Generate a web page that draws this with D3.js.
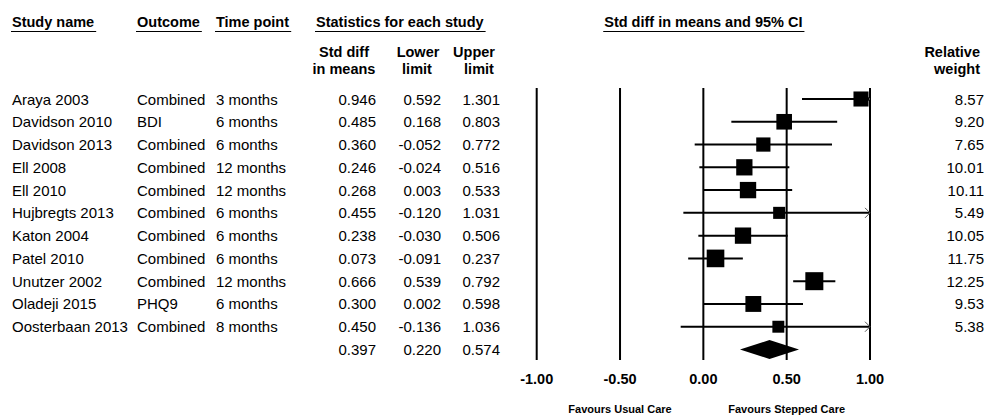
<!DOCTYPE html>
<html lang="en">
	<head>
		<meta charset="utf-8">
		<title>Forest plot: stepped care vs usual care</title>
		<script type="text/javascript" src="https://cdn.jsdelivr.net/npm/d3@7"></script>
		<style type="text/css">
			body { margin: 0; background: #fff; }
			text { font-family: "Liberation Sans", Arial, sans-serif; fill: #000; }
		</style>
	</head>
	<body>
		<script type="text/javascript">

			// Data
			var studies   = ["Araya 2003", "Davidson 2010", "Davidson 2013", "Ell 2008", "Ell 2010", "Hujbregts 2013",
			                 "Katon 2004", "Patel 2010", "Unutzer 2002", "Oladeji 2015", "Oosterbaan 2013"];
			var outcomes  = ["Combined", "BDI", "Combined", "Combined", "Combined", "Combined",
			                 "Combined", "Combined", "Combined", "PHQ9", "Combined"];
			var timepoints = ["3 months", "6 months", "6 months", "12 months", "12 months", "6 months",
			                  "6 months", "6 months", "12 months", "6 months", "8 months"];
			var smd   = [0.946, 0.485, 0.360, 0.246, 0.268, 0.455, 0.238, 0.073, 0.666, 0.300, 0.450];
			var lower = [0.592, 0.168, -0.052, -0.024, 0.003, -0.120, -0.030, -0.091, 0.539, 0.002, -0.136];
			var upper = [1.301, 0.803, 0.772, 0.516, 0.533, 1.031, 0.506, 0.237, 0.792, 0.598, 1.036];
			var weights = [8.57, 9.20, 7.65, 10.01, 10.11, 5.49, 10.05, 11.75, 12.25, 9.53, 5.38];
			var pooled = { est: 0.397, lo: 0.220, hi: 0.574 };
			var ticks = [-1.00, -0.50, 0.00, 0.50, 1.00];

			var w = 989, h = 416;

			var svg = d3.select("body").append("svg")
						.attr("width", w)
						.attr("height", h);

			var xScale = d3.scaleLinear().domain([-1, 1]).range([536.7, 870]);
			// row centers, pooled row is the 12th
			var yScale = d3.scaleLinear().domain([0, 11]).range([99, 349.5]);
			var sizeScale = d3.scaleSqrt().domain([0, d3.max(weights)]).range([0, 18]);
			// plain hyphen for negatives, like the original
			var locale = d3.formatLocale({ decimal: ".", thousands: ",", grouping: [3], currency: ["", ""], minus: "-" });
			var fmt = locale.format(".3f");
			var fmtTick = locale.format(".2f");

			// headers
			function header(txt, x, y, anchor, underline) {
				var t = svg.append("text")
					.attr("x", x).attr("y", y)
					.attr("text-anchor", anchor)
					.attr("font-size", "14.5px")
					.attr("font-weight", "bold")
					.text(txt);
				if (underline) {
					var b = t.node().getBBox();
					svg.append("line")
						.attr("x1", b.x - 1).attr("x2", b.x + b.width + 2)
						.attr("y1", 31.5).attr("y2", 31.5)
						.attr("stroke", "#000").attr("stroke-width", 1);
				}
			}
			header("Study name", 12, 27, "start", true);
			header("Outcome", 137, 27, "start", true);
			header("Time point", 216, 27, "start", true);
			header("Statistics for each study", 316, 27, "start", true);
			header("Std diff in means and 95% CI", xScale(0), 27, "middle", true);
			header("Std diff", 344, 57, "middle");
			header("in means", 344, 74, "middle");
			header("Lower", 418, 57, "middle");
			header("limit", 417, 74, "middle");
			header("Upper", 474, 57, "middle");
			header("limit", 479, 74, "middle");
			header("Relative", 980, 57, "end");
			header("weight", 980, 74, "end");

			// table text
			var idx = d3.range(studies.length);
			function col(values, x, anchor) {
				svg.append("g").selectAll("text")
					.data(values)
					.enter()
					.append("text")
					.attr("x", x)
					.attr("y", function(d, i) { return yScale(i) + 5.5; })
					.attr("text-anchor", anchor)
					.attr("font-size", "15px")
					.text(function(d) { return d; });
			}
			col(studies, 12, "start");
			col(outcomes, 137, "start");
			col(timepoints, 216, "start");
			col(smd.map(fmt).concat([fmt(pooled.est)]), 376, "end");
			col(lower.map(fmt).concat([fmt(pooled.lo)]), 441, "end");
			col(upper.map(fmt).concat([fmt(pooled.hi)]), 500, "end");
			col(weights.map(function(d) { return d.toFixed(2); }), 984, "end");

			// vertical reference lines
			svg.append("g").selectAll("line")
				.data(ticks)
				.enter()
				.append("line")
				.attr("x1", function(d) { return xScale(d); })
				.attr("x2", function(d) { return xScale(d); })
				.attr("y1", 88).attr("y2", 360)
				.attr("stroke", "#000").attr("stroke-width", 2);

			// tick labels
			svg.append("g").selectAll("text")
				.data(ticks)
				.enter()
				.append("text")
				.attr("x", function(d) { return xScale(d); })
				.attr("y", 383.5)
				.attr("text-anchor", "middle")
				.attr("font-size", "14.5px")
				.attr("font-weight", "bold")
				.text(function(d) { return fmtTick(d); });

			// CI lines, clipped to the axis range
			var lo = xScale.domain()[0], hi = xScale.domain()[1];
			svg.append("g").selectAll("line")
				.data(idx)
				.enter()
				.append("line")
				.attr("x1", function(i) { return xScale(Math.max(lower[i], lo)); })
				.attr("x2", function(i) { return xScale(Math.min(upper[i], hi)); })
				.attr("y1", function(i) { return yScale(i); })
				.attr("y2", function(i) { return yScale(i); })
				.attr("stroke", "#000").attr("stroke-width", 2);

			// arrows for CIs running past 1.00
			svg.append("g").selectAll("path")
				.data(idx.filter(function(i) { return upper[i] > hi; }))
				.enter()
				.append("path")
				.attr("d", function(i) {
					var x = xScale(hi), y = yScale(i);
					return "M" + (x - 5) + "," + (y - 5) + "L" + x + "," + y + "L" + (x - 5) + "," + (y + 5);
				})
				.attr("fill", "none").attr("stroke", "#555").attr("stroke-width", 1);

			// weight squares
			svg.append("g").selectAll("rect")
				.data(idx)
				.enter()
				.append("rect")
				.attr("x", function(i) { return xScale(smd[i]) - sizeScale(weights[i]) / 2; })
				.attr("y", function(i) { return yScale(i) - sizeScale(weights[i]) / 2; })
				.attr("width", function(i) { return sizeScale(weights[i]); })
				.attr("height", function(i) { return sizeScale(weights[i]); })
				.attr("fill", "#000");

			// pooled diamond
			var py = yScale(studies.length);
			svg.append("path")
				.attr("d", "M" + xScale(pooled.lo) + "," + py +
						   "L" + xScale(pooled.est) + "," + (py - 9.5) +
						   "L" + xScale(pooled.hi) + "," + py +
						   "L" + xScale(pooled.est) + "," + (py + 9.5) + "Z")
				.attr("fill", "#000");

			// favours labels
			svg.append("text")
				.attr("x", xScale(-0.5)).attr("y", 413)
				.attr("text-anchor", "middle")
				.attr("font-size", "11px").attr("font-weight", "bold")
				.text("Favours Usual Care");
			svg.append("text")
				.attr("x", xScale(0.5)).attr("y", 413)
				.attr("text-anchor", "middle")
				.attr("font-size", "11px").attr("font-weight", "bold")
				.text("Favours Stepped Care");

		</script>
	</body>
</html>
